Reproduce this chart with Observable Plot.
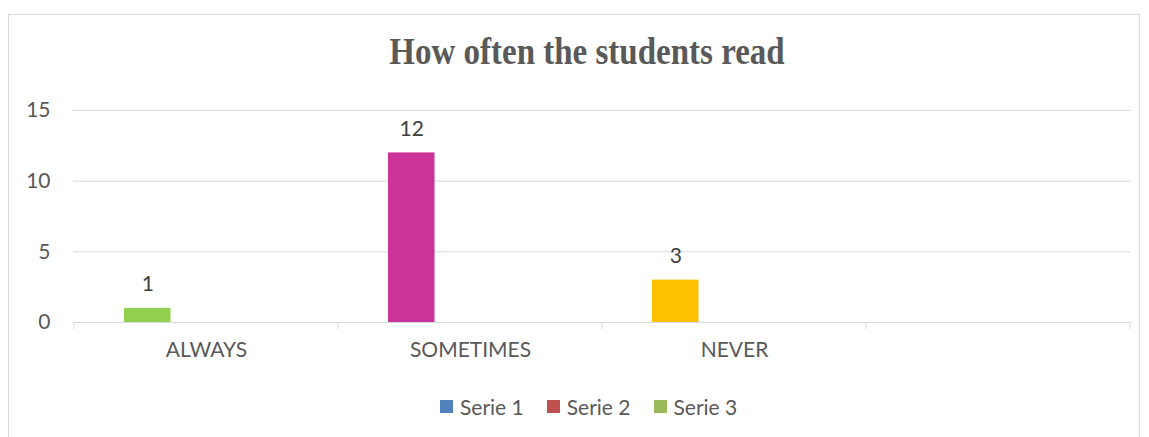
<!DOCTYPE html>
<html><head><meta charset="utf-8">
<script src="https://cdn.jsdelivr.net/npm/d3@7"></script>
<script src="https://cdn.jsdelivr.net/npm/@observablehq/plot@0.6"></script>
<style>
body{margin:0;background:#fff;}
#wrap{position:relative;width:1149px;height:437px;overflow:hidden;font-family:Lato,sans-serif;background:#fff;}
#frame{position:absolute;left:8px;top:14px;width:1132px;height:500px;border:1px solid #d9d9d9;box-sizing:border-box;}
#chart{position:absolute;left:0;top:0;}
#title{position:absolute;left:287px;width:600px;top:37px;text-align:center;font-family:"Liberation Serif","Times New Roman",serif;font-weight:bold;font-size:33px;line-height:33px;color:#595959;white-space:nowrap;transform:scaleY(1.17);transform-origin:50% 80%;}
#legend{position:absolute;left:440px;top:396px;display:flex;align-items:center;font-size:21px;color:#595959;line-height:21px;}
#legend .item{display:flex;align-items:center;margin-right:23px;}
#legend .sw{width:13px;height:13px;margin-right:7px;}
</style></head><body>
<div id="wrap"><div id="frame"></div><div id="chart"></div><div id="title">How often the students read</div><div id="legend"></div></div>
<script>
const categories = ["ALWAYS", "SOMETIMES", "NEVER", ""];
const values = [1, 12, 3];
const barColors = ["#92d050", "#cc3399", "#ffc000"];
const seriesNames = ["Serie 1", "Serie 2", "Serie 3"];
const seriesColors = ["#4f81bd", "#c0504d", "#9bbb59"];
const yTicks = [0, 5, 10, 15];

const data = values.map((v, i) => ({cat: categories[i], value: v, color: barColors[i]}));

const plot = Plot.plot({
  width: 1149, height: 437,
  marginLeft: 73, marginRight: 18, marginTop: 110, marginBottom: 115,
  style: {background: "transparent", fontFamily: "Lato, sans-serif", fontSize: "21px", color: "#595959"},
  x: {domain: categories, padding: 0, axis: null},
  y: {domain: [0, 15], axis: null},
  color: {type: "identity"},
  marks: [
    Plot.gridY(yTicks, {stroke: "#d9d9d9", strokeOpacity: 1}),
    Plot.axisY(yTicks, {tickSize: 0, tickPadding: 23, fill: "#595959", fontSize: 21, label: null}),
    Plot.axisX({tickSize: 0, tickPadding: 20, fill: "#595959", fontSize: 21, label: null}),
    Plot.barY(data, {x: "cat", y: "value", fill: "color", insetLeft: 50, insetRight: 167.5}),
    Plot.text(data, {x: "cat", y: "value", text: d => String(d.value), dx: -58.75, dy: -24, fill: "#404040", fontSize: 21})
  ]
});
document.getElementById("chart").appendChild(plot);

// category boundary tick marks below the baseline
const xs = plot.scale("x"), ys = plot.scale("y");
const y0 = ys.apply(0);
const bounds = categories.map(c => xs.apply(c)).concat([xs.apply(categories[categories.length - 1]) + xs.step]);
const g = d3.select(plot).append("g").attr("stroke", "#d9d9d9");
bounds.forEach(b => g.append("line").attr("x1", b).attr("x2", b).attr("y1", y0).attr("y2", y0 + 7));

const leg = d3.select("#legend");
seriesNames.forEach((s, i) => {
  const it = leg.append("div").attr("class", "item");
  it.append("div").attr("class", "sw").style("background", seriesColors[i]);
  it.append("span").text(s);
});
</script>
</body></html>
